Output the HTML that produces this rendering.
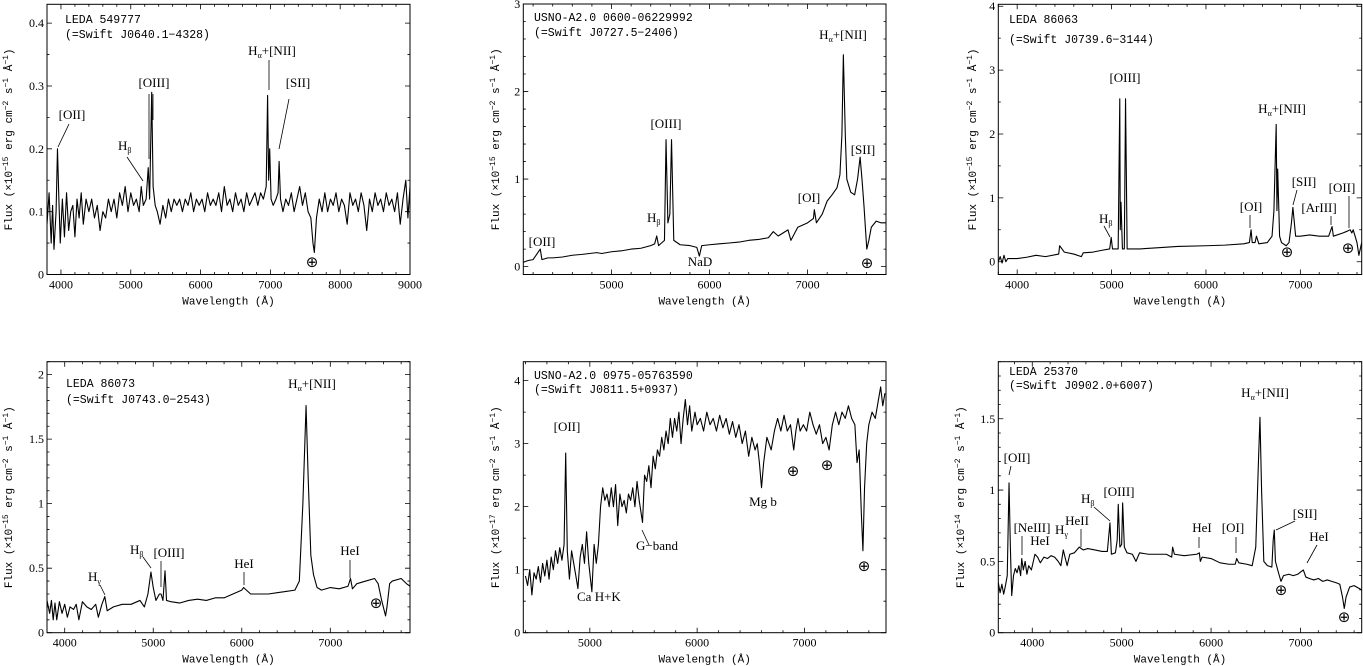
<!DOCTYPE html>
<html><head><meta charset="utf-8"><style>
html,body{margin:0;padding:0;background:#fff;}
svg{display:block;}
text{fill:#000;}
.tk{font-family:"Liberation Serif",serif;font-size:12px;}
.ax{font-family:"Liberation Mono",monospace;font-size:11px;}
.tt{font-family:"Liberation Mono",monospace;font-size:11.5px;}
.ln{font-family:"Liberation Serif",serif;font-size:13px;}
.ea{font-family:"DejaVu Sans",sans-serif;font-size:15px;}
</style></head><body>
<svg id="fig" width="1363" height="666" viewBox="0 0 1363 666" xmlns="http://www.w3.org/2000/svg">
<g id="marks"></g>
<g id="labels" stroke="#000" stroke-width="0.8">
<!-- Panel 1 -->
<text class="tt" x="65" y="23" stroke="none">LEDA 549777</text>
<text class="tt" x="65" y="38" stroke="none">(=Swift J0640.1−4328)</text>
<text class="ln" x="72" y="119" text-anchor="middle" stroke="none">[OII]</text>
<line x1="69" y1="124" x2="58" y2="147"/>
<text class="ln" x="118" y="150" stroke="none">H<tspan font-size="8" dy="3">β</tspan></text>
<line x1="127" y1="157" x2="143" y2="181"/>
<text class="ln" x="154" y="87" text-anchor="middle" stroke="none">[OIII]</text>
<line x1="149" y1="94" x2="149" y2="159"/><line x1="153" y1="94" x2="153" y2="120"/>
<text class="ln" x="272" y="55" text-anchor="middle" stroke="none">H<tspan font-size="8" dy="3">α</tspan><tspan dy="-3">+[NII]</tspan></text>
<line x1="269" y1="60" x2="269" y2="90"/>
<text class="ln" x="298" y="87" text-anchor="middle" stroke="none">[SII]</text>
<line x1="289" y1="99" x2="279" y2="149"/>
<text class="ea" x="312" y="267" text-anchor="middle" stroke="none">⊕</text>
<!-- Panel 2 -->
<text class="tt" x="534" y="21" stroke="none">USNO-A2.0 0600-06229992</text>
<text class="tt" x="534" y="36" stroke="none">(=Swift J0727.5−2406)</text>
<text class="ln" x="542" y="246" text-anchor="middle" stroke="none">[OII]</text>
<text class="ln" x="647" y="222" stroke="none">H<tspan font-size="8" dy="3">β</tspan></text>
<text class="ln" x="666" y="128" text-anchor="middle" stroke="none">[OIII]</text>
<text class="ln" x="700" y="266" text-anchor="middle" stroke="none">NaD</text>
<text class="ln" x="809" y="202" text-anchor="middle" stroke="none">[OI]</text>
<text class="ln" x="843" y="39" text-anchor="middle" stroke="none">H<tspan font-size="8" dy="3">α</tspan><tspan dy="-3">+[NII]</tspan></text>
<text class="ln" x="863" y="154" text-anchor="middle" stroke="none">[SII]</text>
<text class="ea" x="867" y="268" text-anchor="middle" stroke="none">⊕</text>
<!-- Panel 3 -->
<text class="tt" x="1009" y="23" stroke="none">LEDA 86063</text>
<text class="tt" x="1009" y="43" stroke="none">(=Swift J0739.6−3144)</text>
<text class="ln" x="1125" y="82" text-anchor="middle" stroke="none">[OIII]</text>
<text class="ln" x="1282" y="113" text-anchor="middle" stroke="none">H<tspan font-size="8" dy="3">α</tspan><tspan dy="-3">+[NII]</tspan></text>
<text class="ln" x="1099" y="223" stroke="none">H<tspan font-size="8" dy="3">β</tspan></text>
<line x1="1104" y1="226" x2="1110" y2="237"/>
<text class="ln" x="1251" y="211" text-anchor="middle" stroke="none">[OI]</text>
<line x1="1250" y1="215" x2="1250" y2="228"/>
<text class="ln" x="1304" y="186" text-anchor="middle" stroke="none">[SII]</text>
<line x1="1297" y1="190" x2="1293" y2="205"/>
<text class="ln" x="1319" y="212" text-anchor="middle" stroke="none">[ArIII]</text>
<line x1="1331" y1="216" x2="1331" y2="225"/>
<text class="ln" x="1342" y="192" text-anchor="middle" stroke="none">[OII]</text>
<line x1="1349" y1="196" x2="1349" y2="228"/>
<text class="ea" x="1287" y="257" text-anchor="middle" stroke="none">⊕</text>
<text class="ea" x="1348" y="253" text-anchor="middle" stroke="none">⊕</text>
<!-- Panel 4 -->
<text class="tt" x="66" y="387" stroke="none">LEDA 86073</text>
<text class="tt" x="66" y="403" stroke="none">(=Swift J0743.0−2543)</text>
<text class="ln" x="312" y="388" text-anchor="middle" stroke="none">H<tspan font-size="8" dy="3">α</tspan><tspan dy="-3">+[NII]</tspan></text>
<text class="ln" x="88" y="581" stroke="none">H<tspan font-size="8" dy="3">γ</tspan></text>
<line x1="100" y1="585" x2="105" y2="595"/>
<text class="ln" x="130" y="554" stroke="none">H<tspan font-size="8" dy="3">β</tspan></text>
<line x1="143" y1="557" x2="151" y2="568"/>
<text class="ln" x="169" y="557" text-anchor="middle" stroke="none">[OIII]</text>
<line x1="161" y1="561" x2="161" y2="587"/>
<text class="ln" x="244" y="568" text-anchor="middle" stroke="none">HeI</text>
<line x1="244" y1="572" x2="244" y2="585"/>
<text class="ln" x="350" y="555" text-anchor="middle" stroke="none">HeI</text>
<line x1="350" y1="560" x2="350" y2="578"/>
<text class="ea" x="376" y="608" text-anchor="middle" stroke="none">⊕</text>
<!-- Panel 5 -->
<text class="tt" x="534" y="379" stroke="none">USNO-A2.0 0975-05763590</text>
<text class="tt" x="534" y="393" stroke="none">(=Swift J0811.5+0937)</text>
<text class="ln" x="567" y="431" text-anchor="middle" stroke="none">[OII]</text>
<text class="ln" x="577" y="601" stroke="none">Ca H+K</text>
<text class="ln" x="636" y="550" stroke="none">G−band</text>
<line x1="642" y1="530" x2="649" y2="545"/>
<text class="ln" x="763" y="506" text-anchor="middle" stroke="none">Mg b</text>
<text class="ea" x="793" y="476" text-anchor="middle" stroke="none">⊕</text>
<text class="ea" x="827" y="470" text-anchor="middle" stroke="none">⊕</text>
<text class="ea" x="864" y="571" text-anchor="middle" stroke="none">⊕</text>
<!-- Panel 6 -->
<text class="tt" x="1009" y="375" stroke="none">LEDA 25370</text>
<text class="tt" x="1009" y="389" stroke="none">(=Swift J0902.0+6007)</text>
<text class="ln" x="1265" y="397" text-anchor="middle" stroke="none">H<tspan font-size="8" dy="3">α</tspan><tspan dy="-3">+[NII]</tspan></text>
<text class="ln" x="1017" y="462" text-anchor="middle" stroke="none">[OII]</text>
<line x1="1011" y1="466" x2="1009" y2="475"/>
<text class="ln" x="1032" y="532" text-anchor="middle" stroke="none">[NeIII]</text>
<line x1="1022" y1="536" x2="1022" y2="555"/>
<text class="ln" x="1040" y="545" text-anchor="middle" stroke="none">HeI</text>
<text class="ln" x="1055" y="534" stroke="none">H<tspan font-size="8" dy="3">γ</tspan></text>
<text class="ln" x="1077" y="525" text-anchor="middle" stroke="none">HeII</text>
<line x1="1081" y1="529" x2="1081" y2="547"/>
<text class="ln" x="1081" y="503" stroke="none">H<tspan font-size="8" dy="3">β</tspan></text>
<line x1="1094" y1="507" x2="1110" y2="521"/>
<text class="ln" x="1119" y="496" text-anchor="middle" stroke="none">[OIII]</text>
<text class="ln" x="1202" y="532" text-anchor="middle" stroke="none">HeI</text>
<line x1="1199" y1="537" x2="1199" y2="548"/>
<text class="ln" x="1233" y="532" text-anchor="middle" stroke="none">[OI]</text>
<line x1="1236" y1="537" x2="1236" y2="553"/>
<text class="ln" x="1305" y="518" text-anchor="middle" stroke="none">[SII]</text>
<line x1="1295" y1="521" x2="1276" y2="530"/>
<text class="ln" x="1319" y="541" text-anchor="middle" stroke="none">HeI</text>
<line x1="1317" y1="545" x2="1307" y2="563"/>
<text class="ea" x="1281" y="595" text-anchor="middle" stroke="none">⊕</text>
<text class="ea" x="1344" y="622" text-anchor="middle" stroke="none">⊕</text>
</g>
</svg>
<script>
// ---- Panel 1: LEDA 549777 ----
const wl1=[3800,3830,3860,3880,3900,3930,3950,3970,3990,4020,4050,4080,4110,4140,4170,4200,4230,4260,4290,4320,4360,4400,4440,4480,4520,4560,4600,4640,4680,4720,4760,4800,4840,4880,4920,4960,5000,5040,5080,5120,5150,5180,5220,5250,5270,5300,5320,5350,5380,5420,5460,5500,5540,5580,5620,5660,5700,5740,5780,5820,5860,5900,5940,5980,6020,6060,6100,6140,6180,6220,6260,6300,6340,6380,6420,6460,6500,6540,6580,6620,6660,6700,6740,6780,6820,6860,6900,6940,6960,6975,6990,7010,7040,7080,7110,7125,7145,7180,7220,7260,7300,7340,7380,7420,7460,7500,7540,7580,7610,7630,7660,7700,7740,7780,7820,7860,7900,7940,7980,8020,8060,8100,8140,8180,8220,8260,8300,8340,8380,8420,8460,8500,8540,8580,8620,8660,8700,8740,8780,8820,8860,8900,8940,8970,9000];
const flux1=[.08,.13,.05,.11,.04,.10,.20,.12,.05,.12,.06,.13,.07,.10,.11,.06,.12,.09,.13,.08,.12,.10,.12,.09,.11,.07,.10,.09,.12,.10,.12,.09,.13,.11,.14,.10,.13,.11,.12,.10,.14,.11,.12,.17,.12,.29,.14,.11,.10,.08,.11,.09,.12,.10,.12,.11,.12,.10,.12,.11,.13,.10,.12,.11,.12,.10,.13,.11,.12,.11,.13,.10,.14,.11,.12,.10,.13,.11,.12,.10,.13,.11,.12,.13,.11,.13,.12,.14,.285,.15,.20,.12,.11,.12,.13,.18,.12,.10,.12,.11,.13,.10,.12,.14,.11,.13,.10,.09,.05,.035,.09,.12,.10,.13,.10,.12,.11,.13,.10,.12,.11,.08,.13,.11,.12,.10,.13,.11,.07,.12,.10,.13,.11,.12,.10,.13,.11,.12,.10,.13,.08,.12,.15,.09,.14];
const xt1=[4000,5000,6000,7000,8000,9000];
const yt1=[0,0.1,0.2,0.3,0.4];
const ytl1=["0","0.1","0.2","0.3","0.4"];
// ---- Panel 2: USNO-A2.0 0600-06229992 ----
const wl2=[4100,4150,4200,4273,4290,4350,4400,4500,4600,4700,4850,4900,5000,5100,5200,5300,5400,5440,5461,5480,5540,5556,5575,5595,5612,5635,5700,5800,5870,5896,5920,6000,6100,6200,6300,6400,6500,6600,6650,6700,6800,6830,6900,7000,7060,7069,7090,7150,7200,7250,7300,7330,7350,7365,7385,7400,7440,7480,7510,7536,7555,7575,7604,7625,7650,7700,7750,7800];
const flux2=[.05,.07,.08,.2,.08,.1,.1,.11,.13,.14,.16,.15,.17,.18,.2,.21,.24,.26,.35,.24,.3,1.45,.5,.6,1.45,.3,.25,.24,.22,.12,.24,.25,.26,.27,.28,.3,.31,.33,.4,.35,.42,.3,.45,.5,.55,.65,.5,.6,.75,.82,.9,1.05,1.5,2.42,1.5,1.0,.85,.82,1.0,1.25,1.0,.7,.2,.3,.45,.52,.5,.5];
const xt2=[5000,6000,7000];
const yt2=[0,1,2,3];
const ytl2=["0","1","2","3"];
// ---- Panel 3: LEDA 86063 ----
const wl3=[3800,3820,3840,3860,3880,3900,4000,4100,4200,4300,4440,4450,4500,4600,4680,4700,4800,4900,4980,4996,5010,5070,5087,5092,5100,5115,5135,5148,5165,5300,5500,5700,6000,6200,6400,6460,6478,6490,6520,6535,6560,6650,6700,6720,6744,6752,6760,6780,6800,6850,6880,6905,6921,6950,7000,7100,7200,7300,7336,7350,7450,7500,7528,7545,7560,7600,7620,7650];
const flux3=[0.0,.08,-.02,.1,0.0,.05,.05,.07,.1,.08,.12,.25,.15,.12,.08,.14,.15,.18,.2,.38,.2,.2,2.55,.5,.93,.2,.2,2.55,.2,.2,.22,.24,.25,.26,.28,.3,.5,.3,.3,.4,.28,.3,.4,.8,2.15,.8,1.45,.4,.3,.25,.3,.6,.85,.4,.4,.42,.4,.4,.55,.4,.45,.48,.5,.45,.5,.3,.1,.3];
const xt3=[4000,5000,6000,7000];
const yt3=[0,1,2,3,4];
const ytl3=["0","1","2","3","4"];
// ---- Panel 4: LEDA 86073 ----
const wl4=[3800,3830,3850,3870,3890,3910,3940,3970,4000,4030,4060,4100,4130,4160,4200,4250,4300,4350,4380,4420,4453,4480,4550,4650,4750,4850,4900,4940,4974,5000,5030,5070,5088,5110,5133,5150,5200,5300,5400,5500,5600,5700,5800,5900,6000,6020,6100,6200,6300,6400,6500,6600,6650,6690,6726,6750,6780,6810,6850,6900,7000,7100,7200,7228,7250,7300,7400,7500,7540,7580,7624,7640,7670,7700,7800,7860,7900];
const flux4=[.25,.15,.25,.1,.23,.1,.24,.15,.22,.12,.2,.18,.22,.1,.24,.2,.18,.22,.12,.22,.28,.17,.2,.22,.22,.25,.2,.3,.47,.35,.25,.3,.3,.25,.48,.25,.24,.23,.25,.26,.25,.27,.27,.3,.33,.35,.3,.3,.3,.31,.32,.33,.4,1.0,1.76,1.2,.6,.45,.35,.33,.35,.34,.36,.42,.34,.38,.4,.42,.38,.25,.13,.2,.38,.4,.42,.38,.36];
const xt4=[4000,5000,6000,7000];
const yt4=[0,0.5,1,1.5,2];
const ytl4=["0","0.5","1","1.5","2"];
// ---- Panel 5: USNO-A2.0 0975-05763590 ----
const wl5=[4400,4420,4440,4460,4480,4500,4520,4540,4560,4580,4600,4620,4640,4660,4680,4700,4720,4740,4760,4775,4790,4810,4830,4850,4870,4889,4910,4930,4950,4970,4990,5019,5040,5060,5080,5100,5120,5140,5160,5180,5200,5220,5240,5260,5280,5300,5320,5340,5360,5380,5400,5420,5440,5460,5491,5510,5530,5550,5570,5590,5610,5630,5650,5670,5690,5710,5730,5750,5770,5790,5810,5830,5850,5870,5890,5910,5930,5950,5980,6000,6030,6060,6090,6120,6150,6180,6210,6240,6270,6300,6330,6360,6390,6420,6450,6480,6510,6540,6560,6580,6600,6620,6650,6690,6720,6750,6780,6810,6840,6870,6900,6920,6940,6960,6990,7020,7050,7080,7110,7140,7170,7200,7230,7260,7290,7320,7350,7380,7410,7440,7470,7490,7510,7530,7545,7560,7580,7600,7630,7660,7690,7710,7730,7750,7760];
const flux5=[.9,.75,1.0,.6,.95,.85,1.05,.8,1.1,.9,1.15,.85,1.2,1.0,1.3,1.1,1.35,1.15,1.4,2.85,1.3,.85,1.3,1.1,.9,.7,1.2,1.4,1.1,1.6,1.1,.65,1.4,1.1,1.4,2.0,2.3,2.1,2.2,2.0,2.3,2.0,2.35,1.7,2.2,2.0,2.1,1.9,2.2,2.1,2.3,2.0,2.4,2.1,1.75,2.5,2.4,2.65,2.3,2.8,2.6,2.9,2.8,3.1,2.9,3.2,3.0,3.4,3.1,3.4,3.2,3.5,3.0,3.4,3.7,3.3,3.6,3.2,3.5,3.3,3.4,3.2,3.5,3.3,3.4,3.2,3.45,3.25,3.4,3.15,3.35,3.1,3.3,3.0,3.2,2.8,3.1,2.9,3.0,2.7,2.3,2.7,3.1,2.9,3.2,3.4,3.2,3.45,3.2,3.3,2.9,3.2,3.4,3.2,3.3,3.2,3.5,3.3,3.15,3.3,3.0,3.1,2.9,3.3,3.5,3.3,3.5,3.4,3.6,3.4,3.3,2.7,2.9,1.9,1.3,2.3,3.0,3.3,3.5,3.4,3.7,3.9,3.6,3.8];
const xt5=[5000,6000,7000];
const yt5=[0,1,2,3,4];
const ytl5=["0","1","2","3","4"];
// ---- Panel 6: LEDA 25370 ----
const wl6=[3620,3640,3660,3680,3700,3720,3740,3755,3770,3790,3810,3830,3850,3870,3882,3900,3920,3940,3960,3990,4030,4060,4090,4130,4170,4210,4250,4290,4320,4347,4370,4390,4420,4470,4526,4570,4620,4700,4780,4840,4869,4885,4930,4950,4962,4980,5000,5011,5030,5060,5120,5160,5200,5300,5400,5500,5560,5570,5590,5700,5840,5869,5880,5900,6000,6100,6200,6270,6287,6310,6400,6460,6500,6530,6547,6565,6590,6630,6680,6695,6707,6720,6750,6782,6810,6870,6920,6970,7032,7060,7100,7150,7200,7250,7300,7350,7400,7440,7470,7490,7510,7550,7600,7685];
const flux6=[.35,.28,.34,.27,.33,.4,1.05,.6,.26,.4,.45,.42,.47,.4,.52,.44,.5,.41,.47,.44,.55,.53,.49,.53,.52,.54,.53,.5,.47,.58,.52,.47,.55,.56,.6,.58,.59,.58,.57,.57,.77,.55,.56,.65,.9,.6,.62,.91,.6,.56,.55,.5,.56,.55,.55,.55,.53,.6,.55,.54,.55,.56,.5,.53,.52,.49,.48,.48,.52,.49,.48,.47,.6,1.2,1.51,1.0,.5,.47,.46,.65,.72,.5,.43,.36,.4,.41,.4,.41,.44,.39,.38,.37,.38,.36,.37,.36,.35,.34,.25,.17,.25,.32,.33,.3];
const xt6=[4000,5000,6000,7000];
const yt6=[0,0.5,1,1.5];
const ytl6=["0","0.5","1","1.5"];

const NS="http://www.w3.org/2000/svg";
const marks=document.getElementById('marks');
function mk(tag,attrs,parent){const e=document.createElementNS(NS,tag);for(const k in attrs)e.setAttribute(k,attrs[k]);(parent||marks).appendChild(e);return e;}

function panel(id,box,dom,wl,flux,xt,yt,ytl,xminor,yminor,exp,ylabX){
  const [L,R,T,B]=box, [x0,x1,y0,y1]=dom;
  const sx=v=>L+(v-x0)/(x1-x0)*(R-L);
  const sy=v=>B-(v-y0)/(y1-y0)*(B-T);
  const g=mk('g',{});
  
  
  const clipId='clip-'+id;
  const cp=mk('clipPath',{id:clipId},g);
  mk('rect',{x:L,y:T,width:R-L,height:B-T},cp);
  let d='';
  for(let i=0;i<wl.length;i++){d+=(i?'L':'M')+sx(wl[i]).toFixed(2)+','+sy(flux[i]).toFixed(2);}
  const p=mk('path',{d:d,fill:'none',stroke:'#000','stroke-width':'1.1','stroke-linejoin':'round','clip-path':'url(#'+clipId+')'},g);
  
  
  const fr=mk('rect',{x:L,y:T,width:R-L,height:B-T,fill:'none',stroke:'#000','stroke-width':'1'},g);
  
  
  let td='';
  const s0=Math.ceil(x0/xminor)*xminor;
  for(let v=s0;v<=x1+1e-6;v+=xminor){const X=sx(v);const maj=xt.some(t=>Math.abs(t-v)<1e-6);const len=maj?5:2.5;td+=`M${X},${B}V${B-len}M${X},${T}V${T+len}`;}
  const t0=Math.ceil((y0-1e-9)/yminor)*yminor;
  for(let v=t0;v<=y1+1e-6;v+=yminor){const Y=sy(v);const maj=yt.some(t=>Math.abs(t-v)<1e-6);const len=maj?5:2.5;td+=`M${L},${Y}H${L+len}M${R},${Y}H${R-len}`;}
  const tk=mk('path',{d:td,stroke:'#000','stroke-width':'0.8',fill:'none'},g);
  
  
  xt.forEach(v=>{const t=mk('text',{x:sx(v),y:B+14,'text-anchor':'middle',class:'tk'},g);t.textContent=String(v);
    
    });
  yt.forEach((v,i)=>{const t=mk('text',{x:L-3,y:sy(v)+4,'text-anchor':'end',class:'tk'},g);t.textContent=ytl[i];
    
    });
  const xl=mk('text',{x:(L+R)/2,y:B+30,'text-anchor':'middle',class:'ax'},g);
  xl.textContent='Wavelength (Å)';
  
  
  const cy=(T+B)/2;
  const yl=mk('text',{x:ylabX,y:cy,'text-anchor':'middle',class:'ax',transform:`rotate(-90 ${ylabX} ${cy})`},g);
  
  
  yl.innerHTML=`Flux (×10<tspan dy="-4" font-size="8">−${exp}</tspan><tspan dy="4"> erg cm</tspan><tspan dy="-4" font-size="8">−2</tspan><tspan dy="4"> s</tspan><tspan dy="-4" font-size="8">−1</tspan><tspan dy="4"> Å</tspan><tspan dy="-4" font-size="8">−1</tspan><tspan dy="4">)</tspan>`;
}
panel('panel1',[47,410,4.3,274.5],[3800,9000,0,0.43],wl1,flux1,xt1,yt1,ytl1,200,0.05,15,12);
panel('panel2',[523.3,886,4,274.5],[4100,7800,-0.09,3.0],wl2,flux2,xt2,yt2,ytl2,200,0.2,15,499);
panel('panel3',[998.3,1361.7,4.3,274.5],[3800,7650,-0.2,4.03],wl3,flux3,xt3,yt3,ytl3,200,0.5,15,976);
panel('panel4',[47,410,361.7,632.7],[3800,7900,0,2.1],wl4,flux4,xt4,yt4,ytl4,200,0.1,15,12);
panel('panel5',[523.3,886,361.7,632.7],[4380,7760,0,4.3],wl5,flux5,xt5,yt5,ytl5,200,0.5,17,499);
panel('panel6',[998.3,1361.7,361.7,632.7],[3620,7685,0,1.9],wl6,flux6,xt6,yt6,ytl6,200,0.1,14,964);
</script>
</body></html>
